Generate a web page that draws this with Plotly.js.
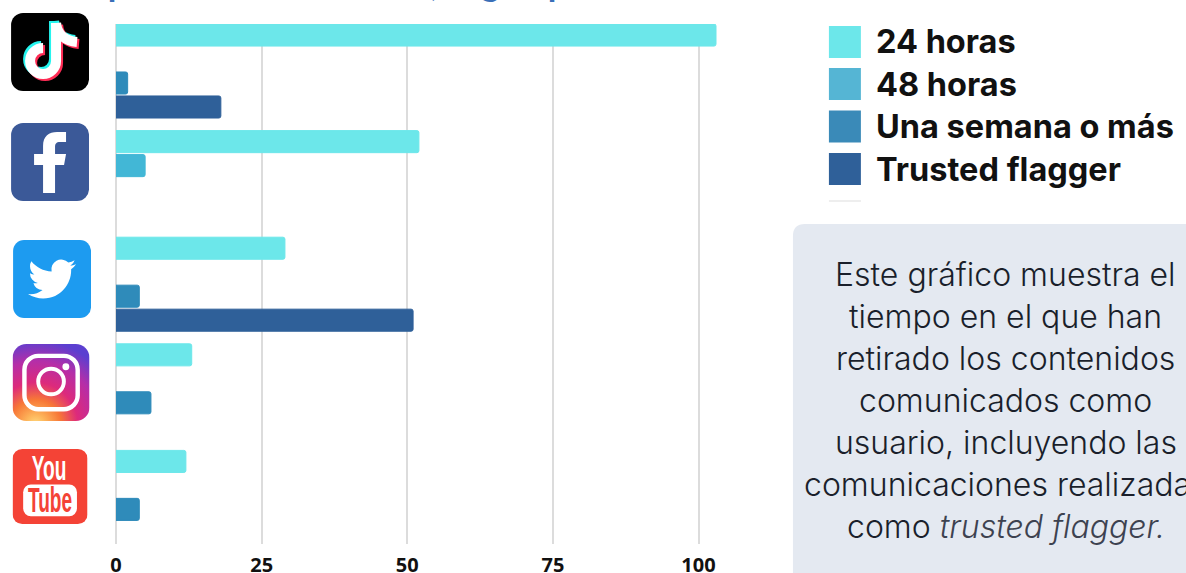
<!DOCTYPE html>
<html><head><meta charset="utf-8">
<script src="https://cdn.plot.ly/plotly-3.0.1.min.js"></script>
<style>html,body{margin:0;padding:0;background:#fff;overflow:hidden}#chart{width:1186px;height:573px}</style>
</head><body><div id="chart"></div>
<script>
const platforms = ['TikTok','Facebook','Twitter','Instagram','YouTube'];
const seriesNames = ['24 horas','48 horas','Una semana o más','Trusted flagger'];
const horas24 = [103,52,29,13,12];
const horas48 = [null,5,null,null,null];
const semana = [2,null,4,6,4];
const trusted = [18,null,51,null,null];
const barColors = ['#6ce7ea','#42b7d6','#2f8bba','#2f6099'];
const legendColors = ['#6ce7ea','#55b5d4','#3a8ab8','#2f6099'];
const axisTicks = [0,25,50,75,100];
const noteLines = ['Este gráfico muestra el','tiempo en el que han','retirado los contenidos','comunicados como','usuario, incluyendo las','comunicaciones realizadas','como <i><span style="color:#3d4250">trusted flagger.</span></i>'];
const clippedTitle = 'Tiempo medio de retirada, según plataforma';

const W=1186,H=573,L=115.5,R=728,T=24,B=544;
const px=x=>(x-L)/(R-L), py=y=>1-(y-T)/(B-T);

const svgUri=s=>'data:image/svg+xml;charset=utf-8,'+encodeURIComponent('<svg xmlns="http://www.w3.org/2000/svg" viewBox="0 0 78 78" width="312" height="312">'+s+'</svg>');
const tkNote='<path d="M45 10V48A13 13 0 1 1 32 35" fill="none" stroke-width="10"/><path d="M45 10C46 21 54 28 66 29" fill="none" stroke-width="10"/>';
const icons={
 tiktok:'<rect width="78" height="78" rx="12" fill="#000"/><g stroke="#25f4ee" transform="translate(-2,-2)">'+tkNote+'</g><g stroke="#fe2c55" transform="translate(2,2)">'+tkNote+'</g><g stroke="#fff">'+tkNote+'</g>',
 facebook:'<rect width="78" height="78" rx="12" fill="#3b5998"/><path fill="#fff" d="M32 70V42H23V31H32V23C32 13 38 9 46 9H55V19H49C45 19 44 21 44 24V31H55L53 42H44V70Z"/>',
 twitter:'<rect width="78" height="78" rx="11" fill="#1d9bf0"/><g transform="translate(15,15) scale(2)"><path fill="#fff" d="M23.953 4.57a10 10 0 01-2.825.775 4.958 4.958 0 002.163-2.723c-.951.555-2.005.959-3.127 1.184a4.92 4.92 0 00-8.384 4.482C7.69 8.095 4.067 6.13 1.64 3.162a4.822 4.822 0 00-.666 2.475c0 1.71.87 3.213 2.188 4.096a4.904 4.904 0 01-2.228-.616v.06a4.923 4.923 0 003.946 4.827 4.996 4.996 0 01-2.212.085 4.936 4.936 0 004.604 3.417 9.867 9.867 0 01-6.102 2.105c-.39 0-.779-.023-1.17-.067a13.995 13.995 0 007.557 2.209c9.053 0 13.998-7.496 13.998-13.985 0-.21 0-.42-.015-.63A9.935 9.935 0 0024 4.59z"/></g>',
 instagram:'<defs><radialGradient id="a" cx="0.3" cy="1.05" r="1.1"><stop offset="0" stop-color="#ffdc80"/><stop offset="0.12" stop-color="#fdb45a"/><stop offset="0.3" stop-color="#f77737"/><stop offset="0.5" stop-color="#dd2a7b"/><stop offset="0.75" stop-color="#b52ea8"/><stop offset="1" stop-color="#5b3fd0"/></radialGradient></defs><rect width="78" height="78" rx="14" fill="url(#a)"/><rect x="12" y="12" width="54" height="54" rx="14" fill="none" stroke="#fff" stroke-width="4.5"/><circle cx="39" cy="38" r="13" fill="none" stroke="#fff" stroke-width="4"/><circle cx="54" cy="23" r="3.5" fill="#fff"/>',
 youtube:'<rect width="78" height="78" rx="10" fill="#f44336"/><text x="38" y="32" text-anchor="middle" font-family="Liberation Sans Narrow,Liberation Sans" font-weight="700" font-size="36" textLength="36" lengthAdjust="spacingAndGlyphs" fill="#fff">You</text><rect x="11" y="37" width="56" height="33" rx="8" fill="#fff"/><text x="39" y="66" text-anchor="middle" font-family="Liberation Sans Narrow,Liberation Sans" font-weight="700" font-size="37" textLength="46" lengthAdjust="spacingAndGlyphs" fill="#f44336">Tube</text>'
};
const iconBoxes=[['tiktok',10.5,13,78,78],['facebook',10.5,123,78,78],['twitter',12.5,240,78,78],['instagram',12,344,77,77],['youtube',12,449,75,75]];
const images=iconBoxes.map(([k,x,y,w,h])=>({source:svgUri(icons[k]),xref:'paper',yref:'paper',x:px(x),y:py(y),sizex:w/(R-L),sizey:h/(B-T),xanchor:'left',yanchor:'top',sizing:'stretch',layer:'above'}));

const roundPath=(x0,y0,x1,y1,r)=>`M${px(x0)} ${py(y1)}L${px(x0)} ${py(y0+r)}Q${px(x0)} ${py(y0)} ${px(x0+r)} ${py(y0)}L${px(x1)} ${py(y0)}L${px(x1)} ${py(y1)}Z`;
const shapes=[{type:'path',xref:'paper',yref:'paper',path:roundPath(793,224,1200,590,12),fillcolor:'#e4e9f1',line:{width:0},layer:'below'}];
const legY=[26,68,110.5,153];
legY.forEach((y,i)=>shapes.push({type:'rect',xref:'paper',yref:'paper',x0:px(829),x1:px(861),y0:py(y),y1:py(y+32),fillcolor:legendColors[i],line:{width:0}}));
shapes.push({type:'rect',xref:'paper',yref:'paper',x0:px(829),x1:px(861),y0:py(200),y1:py(202),fillcolor:'#eeeeee',line:{width:0}});

const annotations=[];
const legFont={family:'Inter, sans-serif',size:32.5,color:'#111',weight:700};
seriesNames.forEach((n,i)=>annotations.push({text:n,xref:'paper',yref:'paper',x:px(875),y:py(legY[i]+16),xanchor:'left',yanchor:'middle',showarrow:false,borderpad:0,font:legFont}));
noteLines.forEach((t,i)=>annotations.push({text:t,xref:'paper',yref:'paper',x:px(1006),y:py(274+i*42.1),xanchor:'center',yanchor:'middle',showarrow:false,borderpad:0,font:{family:'Inter, sans-serif',size:32,color:'#1a1f2b',weight:300}}));
annotations.push({text:clippedTitle,xref:'paper',yref:'paper',x:px(718),y:py(-18),xanchor:'right',yanchor:'middle',showarrow:false,borderpad:0,font:{family:'Lato, sans-serif',size:35,color:'#3a6fb8',weight:700}});

const vals=[horas24,horas48,semana,trusted];
const data=seriesNames.map((n,i)=>({type:'bar',orientation:'h',name:n,y:platforms,x:vals[i],marker:{color:barColors[i],cornerradius:2,line:{color:barColors[i],width:1}},hoverinfo:'x+name'}));
const layout={width:W,height:H,margin:{l:L,r:W-R,t:T,b:H-B,pad:0},paper_bgcolor:'#fff',plot_bgcolor:'#fff',showlegend:false,barmode:'group',bargap:0.1,bargroupgap:0.08,
 xaxis:{range:[0,(R-L)/5.83],tickvals:axisTicks,ticks:'',showgrid:true,gridcolor:'#dcdcdc',gridwidth:2,zeroline:true,zerolinecolor:'#dcdcdc',zerolinewidth:2,showline:false,tickfont:{family:'Open Sans, sans-serif',size:20,color:'#111',weight:700},ticklabelstandoff:7},
 yaxis:{type:'category',categoryorder:'array',categoryarray:platforms,range:[4.437,-0.441],showticklabels:false,ticks:'',showgrid:false,zeroline:false,showline:false},
 images,shapes,annotations};
Plotly.newPlot('chart',data,layout,{displayModeBar:false,staticPlot:true});
</script></body></html>
